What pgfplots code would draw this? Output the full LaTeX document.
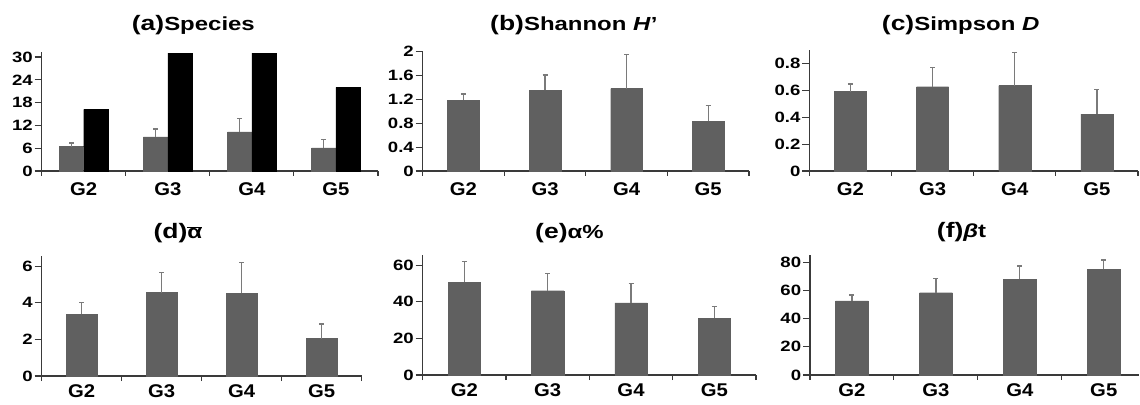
\documentclass[border=0pt]{standalone}
\usepackage{fontspec}
\setmainfont{Liberation Sans}[FakeStretch=1.1]
\usepackage{pgfplots}
\pgfplotsset{compat=1.18}
\definecolor{bargray}{HTML}{606060}
\definecolor{errgray}{HTML}{7A7A7A}
\definecolor{axgray}{HTML}{3A3A3A}
\pgfplotsset{
  panel/.style={
    scale only axis, anchor=south west,
    axis lines*=left,
    axis line style={axgray, line width=1.3bp},
    ymin=0, xmin=-0.5, xmax=3.5,
    xtick={0,1,2,3}, xticklabels={G2,G3,G4,G5},
    minor xtick={-0.5,0.5,1.5,2.5,3.5},
    major x tick style={draw=none},
    minor x tick style={draw=axgray, line width=1.1bp},
    minor tick length=5bp,
    major tick length=7bp,
    ytick style={draw=axgray, line width=1.1bp},
    tick align=outside,
    /pgf/number format/assume math mode=true,
    y tick label style={font=\fontsize{15}{15}\selectfont\bfseries, inner sep=1.5bp, xscale=1.13},
    x tick label style={font=\fontsize{18.5}{18.5}\selectfont\bfseries, inner sep=1bp},
    ybar, bar width=0.39,
    clip=false,
  },
  toprow/.style={x tick label style={yshift=-3bp}},
  gbar/.style={fill=bargray, draw=bargray, line width=0.4bp,
    error bars/.cd, y dir=plus, y explicit,
    error bar style={errgray, line width=1.3bp},
    error mark options={errgray, line width=1.3bp, mark size=2.5bp, rotate=90},
    /pgfplots/.cd},
}
\newcommand{\ttl}[3]{\node[anchor=base west, inner sep=0pt, xscale=1.15] at (#1bp,#2bp)
  {\bfseries\fontsize{21}{21}\selectfont #3};}
\begin{document}
\begin{tikzpicture}
\useasboundingbox (0,0) rectangle (1140bp,405bp);
% (a)
\begin{axis}[panel, toprow, at={(41.7bp,234bp)}, width=336.3bp, height=119.3bp,
  ymax=31.4, ytick={0,6,12,18,24,30}, bar width=0.29]
\addplot[bar shift=-0.145, gbar] coordinates {(0,6.4) +- (0,1.0) (1,9.0) +- (0,2.05) (2,10.3) +- (0,3.6) (3,6.1) +- (0,2.2)};
\addplot[fill=black, draw=black, bar shift=0.145] coordinates {(0,16.2) (1,31) (2,31) (3,22)};
\end{axis}
% (b)
\begin{axis}[panel, toprow, at={(422.7bp,234bp)}, width=326.3bp, height=119.3bp,
  ymax=2, ytick={0,0.4,0.8,1.2,1.6,2}, yticklabels={0,0.4,0.8,1.2,1.6,2}]
\addplot[gbar] coordinates {(0,1.19) +- (0,0.10) (1,1.35) +- (0,0.26) (2,1.38) +- (0,0.57) (3,0.83) +- (0,0.27)};
\end{axis}
% (c)
\begin{axis}[panel, toprow, at={(809.3bp,234bp)}, width=328.7bp, height=121.2bp,
  ymax=0.9, ytick={0,0.2,0.4,0.6,0.8}, yticklabels={0,0.2,0.4,0.6,0.8}]
\addplot[gbar] coordinates {(0,0.59) +- (0,0.056) (1,0.626) +- (0,0.141) (2,0.634) +- (0,0.245) (3,0.423) +- (0,0.184)};
\end{axis}
% (d)
\begin{axis}[panel, at={(41.7bp,29bp)}, width=320bp, height=120bp,
  ymax=6.55, ytick={0,2,4,6}]
\addplot[gbar] coordinates {(0,3.37) +- (0,0.65) (1,4.55) +- (0,1.11) (2,4.51) +- (0,1.69) (3,2.04) +- (0,0.80)};
\end{axis}
% (e)
\begin{axis}[panel, at={(422.7bp,30bp)}, width=333.3bp, height=120bp,
  ymax=65.5, ytick={0,20,40,60}]
\addplot[gbar] coordinates {(0,50.7) +- (0,11.1) (1,46) +- (0,9.5) (2,39.4) +- (0,10.6) (3,31.1) +- (0,6.2)};
\end{axis}
% (f)
\begin{axis}[panel, at={(810bp,30bp)}, width=329bp, height=120bp,
  xmax=3.42, ymax=85.2, ytick={0,20,40,60,80}]
\addplot[gbar] coordinates {(0,52.7) +- (0,4.1) (1,58.4) +- (0,10) (2,68.1) +- (0,9.3) (3,75) +- (0,6.6)};
\end{axis}
% titles
\ttl{131.7}{374.5}{(a)\fontsize{19}{19}\selectfont Species}
\ttl{490}{374.5}{(b)\fontsize{19}{19}\selectfont Shannon \textit{H}'}
\ttl{881.7}{374.5}{(c)\fontsize{19}{19}\selectfont Simpson \textit{D}}
\ttl{153.3}{166.5}{(d)\fontsize{19}{19}\selectfont$\overline{\hbox{α}}$}
\ttl{535}{166.5}{(e)\fontsize{19}{19}\selectfont α\%}
\ttl{936.7}{167.5}{(f)\fontsize{19}{19}\selectfont \textit{β}t}
\end{tikzpicture}
\end{document}
